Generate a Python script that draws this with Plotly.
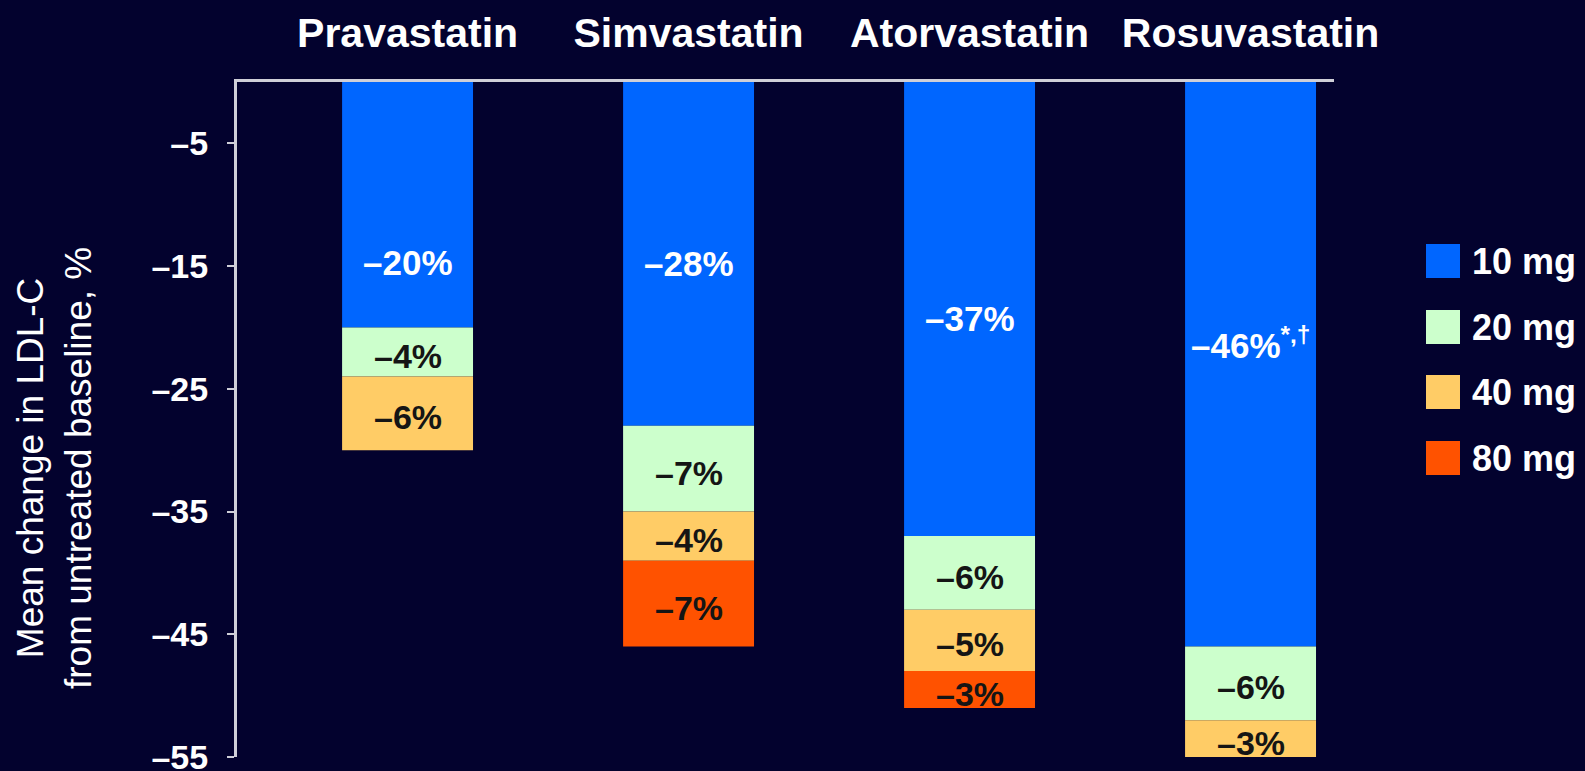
import plotly.graph_objects as go

# LDL-C reduction per dose step, by statin
drugs = ["Pravastatin", "Simvastatin", "Atorvastatin", "Rosuvastatin"]
doses = ["10 mg", "20 mg", "40 mg", "80 mg"]
step_10mg = [-20, -28, -37, -46]
step_20mg = [-4, -7, -6, -6]
step_40mg = [-6, -4, -5, -3]
step_80mg = [None, -7, -3, None]
label_10mg = ["–20%", "–28%", "–37%", "–46%<sup>*,†</sup>"]
y_ticks = [-5, -15, -25, -35, -45, -55]

dose_colors = ["#0066FF", "#CCFFCC", "#FFCC66", "#FF5200"]
label_colors = ["#FFFFFF", "#151515", "#151515", "#151515"]
BG = "#03022E"
AXIS = "#CFCFD8"
FONT = "Liberation Sans, Arial, sans-serif"

# page geometry (pixels)
W, H = 1585, 771
L, R, T, B = 237, 251, 82, 14
PW, PH = W - L - R, H - T - B


def paper_x(p):
    return (p - L) / PW


def paper_y(p):
    return (H - B - p) / PH


steps = [step_10mg, step_20mg, step_40mg, step_80mg]
xpos = list(range(len(drugs)))

fig = go.Figure()
base = [0.0] * len(drugs)
bases = []
for name, vals, col in zip(doses, steps, dose_colors):
    bases.append(list(base))
    fig.add_trace(go.Bar(
        x=xpos, y=vals, base=base, name=name,
        marker=dict(color=col, line=dict(width=0)),
        width=0.466, showlegend=False,
    ))
    base = [b + (v if v is not None else 0) for b, v in zip(base, vals)]

# segment labels
annotations = []
# 10 mg labels sit a little below the top of each blue segment
label_y_10mg = [-14.7, -14.8, -19.3, -21.3]
for i in xpos:
    annotations.append(dict(
        x=i, y=label_y_10mg[i], xref="x", yref="y",
        text=f"<b>{label_10mg[i]}</b>",
        showarrow=False, font=dict(family=FONT, size=35, color="#FFFFFF"),
        xanchor="center", yanchor="middle",
    ))
for k in range(1, 4):
    for i in xpos:
        v = steps[k][i]
        if v is None:
            continue
        mid = bases[k][i] + v / 2
        annotations.append(dict(
            x=i, y=mid, xref="x", yref="y", text=f"<b>–{abs(v)}%</b>",
            showarrow=False, yshift=-4,
            font=dict(family=FONT, size=34, color=label_colors[k]),
            xanchor="center", yanchor="middle",
        ))

# y-axis title
annotations.append(dict(
    x=paper_x(54), y=paper_y(468), xref="paper", yref="paper",
    text="Mean change in LDL-C<br>from untreated baseline, %",
    textangle=-90, showarrow=False,
    font=dict(family=FONT, size=37, color="#FFFFFF"),
    xanchor="center", yanchor="middle",
))

# legend
shapes = []
legend_y = [261, 327, 392, 458]
for name, col, cy in zip(doses, dose_colors, legend_y):
    shapes.append(dict(
        type="rect", xref="paper", yref="paper",
        x0=paper_x(1426), x1=paper_x(1460),
        y0=paper_y(cy + 17), y1=paper_y(cy - 17),
        fillcolor=col, line=dict(width=0), layer="above",
    ))
    annotations.append(dict(
        x=paper_x(1470), y=paper_y(cy), xref="paper", yref="paper",
        text=f"<b>{name}</b>", showarrow=False,
        font=dict(family=FONT, size=36, color="#FFFFFF"),
        xanchor="left", yanchor="middle",
    ))

fig.update_layout(
    width=W, height=H,
    margin=dict(l=L, r=R, t=T, b=B, pad=0),
    paper_bgcolor=BG, plot_bgcolor=BG,
    barmode="relative",
    annotations=annotations,
    shapes=shapes,
    font=dict(family=FONT, color="#FFFFFF"),
)
fig.update_xaxes(
    side="top", range=[-0.607, 3.297],
    tickvals=xpos, ticktext=[f"<b>{d}</b>" for d in drugs],
    tickfont=dict(family=FONT, size=41, color="#FFFFFF"),
    ticks="", ticklabelstandoff=16,
    showline=True, linecolor=AXIS, linewidth=3,
    showgrid=False, zeroline=False, automargin=False,
)
fig.update_yaxes(
    range=[-55, 0],
    tickvals=y_ticks, ticktext=[f"<b>–{abs(v)}</b>" for v in y_ticks],
    tickfont=dict(family=FONT, size=34, color="#FFFFFF"),
    ticks="outside", ticklen=7, tickwidth=2, tickcolor=AXIS,
    ticklabelstandoff=12, ticklabeloverflow="allow",
    showline=True, linecolor=AXIS, linewidth=3,
    showgrid=False, zeroline=False, automargin=False,
)

fig.write_html("out.html")
